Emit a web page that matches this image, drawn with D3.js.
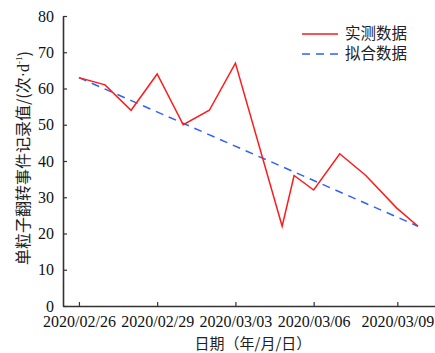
<!DOCTYPE html>
<html>
<head>
<meta charset="utf-8">
<script src="https://cdn.jsdelivr.net/npm/d3@7/dist/d3.min.js"></script>
<style>
  html, body { margin: 0; padding: 0; background: #fff; }
  svg { display: block; }
  .num { font-family: "Liberation Serif", "Times New Roman", "DejaVu Serif", serif; }
  .cjk { font-family: "Noto Sans CJK SC", "Noto Sans", sans-serif; }
</style>
</head>
<body>
<svg id="chart" width="435" height="353"></svg>
<script>
// Measured single-event-upset counts (recording times, some not at midnight)
const measuredDates = [
  "2020-02-26T00:00", "2020-02-27T00:00", "2020-02-28T00:00", "2020-02-29T00:00",
  "2020-03-01T00:00", "2020-03-02T00:00", "2020-03-03T00:00", "2020-03-04T19:00",
  "2020-03-05T06:00", "2020-03-06T00:00", "2020-03-07T00:00", "2020-03-08T00:00",
  "2020-03-09T04:30", "2020-03-10T00:00"
];
const measuredValues = [63, 61, 54, 64, 50, 54, 67, 22, 36, 32, 42, 36, 27, 22];

// Linear fit, given by its two end points
const fitDates = ["2020-02-26T00:00", "2020-03-10T00:00"];
const fitValues = [63, 22];

// Axis ticks
const xDomain = ["2020-02-25T09:20", "2020-03-10T15:40"];
const xTickDates = ["2020-02-26T00:00", "2020-02-29T00:00", "2020-03-03T00:00", "2020-03-06T00:00", "2020-03-09T05:00"];
const xTickLabels = ["2020/02/26", "2020/02/29", "2020/03/03", "2020/03/06", "2020/03/09"];
const yTicks = [0, 10, 20, 30, 40, 50, 60, 70, 80];

const seriesNames = ["实测数据", "拟合数据"];
const seriesColors = ["#ff1a1a", "#2f62f5"];

const parse = d3.timeParse("%Y-%m-%dT%H:%M");
const margin = { left: 63, right: 0, top: 16, bottom: 47 };
const W = 435, H = 353;

const svg = d3.select("#chart");

const x = d3.scaleTime()
  .domain(xDomain.map(parse))
  .range([margin.left, W - margin.right]);
const y = d3.scaleLinear()
  .domain([0, 80])
  .range([H - margin.bottom, margin.top]);

// x axis
const tickLabelByTime = new Map(xTickDates.map((d, i) => [+parse(d), xTickLabels[i]]));
const xAxis = svg.append("g")
  .attr("transform", `translate(0,${y(0)})`)
  .call(d3.axisBottom(x)
    .tickValues(xTickDates.map(parse))
    .tickSize(-4)
    .tickSizeOuter(0)
    .tickPadding(10)
    .tickFormat(d => tickLabelByTime.get(+d)));
xAxis.attr("font-family", null).attr("font-size", null);
xAxis.select(".domain").attr("stroke", "#333").attr("stroke-width", 1.6);
xAxis.selectAll(".tick line").attr("stroke", "#333").attr("stroke-width", 1.2);
xAxis.selectAll(".tick text")
  .attr("class", "num").style("font-size", "16px").attr("fill", "#111");

// y axis
const yAxis = svg.append("g")
  .attr("transform", `translate(${margin.left},0)`)
  .call(d3.axisLeft(y)
    .tickValues(yTicks)
    .tickSize(-4)
    .tickSizeOuter(0)
    .tickPadding(9));
yAxis.attr("font-family", null).attr("font-size", null);
yAxis.select(".domain").attr("stroke", "#333").attr("stroke-width", 1.6);
yAxis.selectAll(".tick line").attr("stroke", "#333").attr("stroke-width", 1.2);
yAxis.selectAll(".tick text")
  .attr("class", "num").style("font-size", "16px").attr("fill", "#111");

// series
const measured = measuredDates.map((d, i) => ({ t: parse(d), v: measuredValues[i] }));
const fitted = fitDates.map((d, i) => ({ t: parse(d), v: fitValues[i] }));
const line = d3.line().x(d => x(d.t)).y(d => y(d.v));

svg.append("path")
  .datum(fitted)
  .attr("d", line)
  .attr("fill", "none")
  .attr("stroke", seriesColors[1])
  .attr("stroke-width", 1.5)
  .attr("stroke-dasharray", "8,6");

svg.append("path")
  .datum(measured)
  .attr("d", line)
  .attr("fill", "none")
  .attr("stroke", seriesColors[0])
  .attr("stroke-width", 1.5)
  .attr("stroke-linejoin", "miter");

// legend
const legend = svg.append("g").attr("transform", "translate(302,34)");
seriesNames.forEach((name, i) => {
  const g = legend.append("g").attr("transform", `translate(0,${i * 20})`);
  g.append("line")
    .attr("x1", 0).attr("x2", 36).attr("y1", 0).attr("y2", 0)
    .attr("stroke", seriesColors[i])
    .attr("stroke-width", 1.5)
    .attr("stroke-dasharray", i === 1 ? "8,6" : null);
  g.append("text")
    .attr("class", "cjk")
    .attr("x", 43).attr("y", 0).attr("dy", "0.35em")
    .style("font-size", "15.5px").attr("fill", "#222")
    .text(name);
});

// axis titles
svg.append("text")
  .attr("class", "cjk")
  .attr("x", 253).attr("y", 344).attr("dy", "0.35em")
  .attr("text-anchor", "middle")
  .style("font-size", "15px").attr("fill", "#222")
  .text("日期（年/月/日）");

const yTitle = svg.append("text")
  .attr("class", "cjk")
  .attr("transform", "translate(23,158) rotate(-90)")
  .attr("text-anchor", "middle")
  .attr("dy", "0.35em")
  .style("font-size", "16px").attr("fill", "#222");
yTitle.append("tspan").text("单粒子翻转事件记录值/(次");
yTitle.append("tspan").attr("class", "num").text("·d");
yTitle.append("tspan").attr("class", "num").style("font-size", "9px").attr("dy", "-0.7em").text("-1");
yTitle.append("tspan").attr("dy", "0.45em").text(")");
</script>
</body>
</html>
